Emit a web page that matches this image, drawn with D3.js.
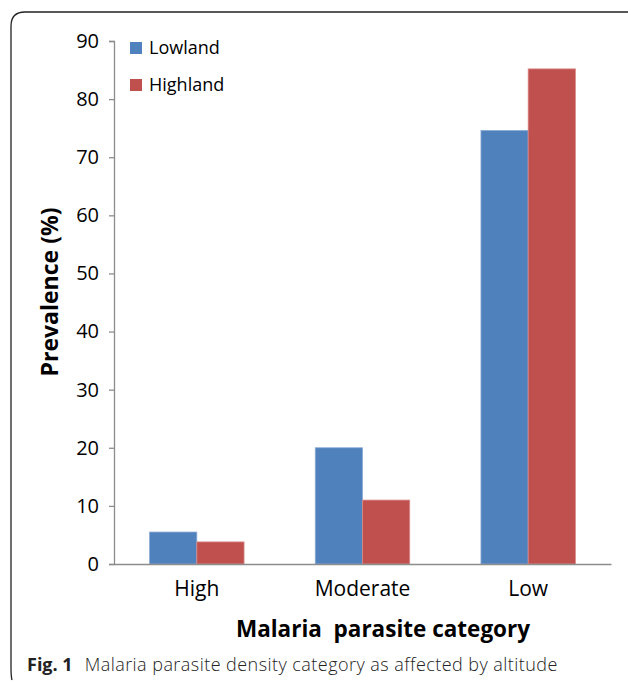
<!DOCTYPE html>
<html><head><meta charset="utf-8">
<script src="https://cdn.jsdelivr.net/npm/d3@7"></script>
<style>body{margin:0;background:#fff}svg{display:block}text{font-family:"Open Sans",sans-serif}</style>
</head><body><svg id="c" width="628" height="682"></svg>
<script>
const categories = ["High", "Moderate", "Low"];
const seriesNames = ["Lowland", "Highland"];
const lowland = [5.5, 20.0, 74.6];
const highland = [3.8, 11.0, 85.2];
const yTicks = [0, 10, 20, 30, 40, 50, 60, 70, 80, 90];
const colors = ["#4F81BD", "#C0504D"];

(function () {
const svg = d3.select("#c");
// frame
svg.append("path").attr("d", "M12,680 Q11,676 11,668 L11,26 Q11,12 25,12 L628,12")
  .attr("fill", "none").attr("stroke", "#222").attr("stroke-width", 1.3);

const pL = 114, pR = 611, pT = 41, pB = 564;
const x = d3.scaleBand().domain(categories).range([pL, pR]).paddingInner(0.43).paddingOuter(0.215);
const xs = d3.scaleBand().domain(seriesNames).range([0, x.bandwidth()]);
const y = d3.scaleLinear().domain([0, 90]).range([pB, pT]);

const data = categories.map((c, i) => ({c, vals: [lowland[i], highland[i]]}));
const g = svg.append("g");
g.selectAll("g.cat").data(data).join("g").attr("transform", d => `translate(${x(d.c)},0)`)
  .selectAll("rect").data(d => d.vals.map((v, j) => ({v, s: seriesNames[j], j})))
  .join("rect")
  .attr("x", d => xs(d.s)).attr("width", xs.bandwidth())
  .attr("y", d => y(d.v)).attr("height", d => y(0) - y(d.v))
  .attr("fill", d => colors[d.j])
  .attr("stroke", d => d.j ? "#d88a88" : "#8aaad6").attr("stroke-width", 0.8);

// y axis
const ya = svg.append("g").attr("transform", `translate(${pL},0)`)
  .call(d3.axisLeft(y).tickValues(yTicks).tickSize(5).tickPadding(10));
ya.select(".domain").attr("stroke", "#8c8c8c").attr("stroke-width", 1.3);
ya.selectAll(".tick line").attr("stroke", "#8c8c8c").attr("stroke-width", 1.3);
ya.selectAll("text").attr("font-size", 20).attr("fill", "#000").attr("font-family", "Open Sans");

// x axis
const xa = svg.append("g").attr("transform", `translate(0,${pB})`)
  .call(d3.axisBottom(x).tickSize(0).tickPadding(17));
xa.select(".domain").attr("stroke", "#8c8c8c").attr("stroke-width", 1.5);
xa.selectAll("text").attr("font-size", 21).attr("fill", "#000").attr("font-family", "Open Sans");

// axis titles
svg.append("text").attr("transform", "translate(58,292) rotate(-90)").attr("text-anchor", "middle")
  .attr("font-size", 23).attr("font-weight", "bold").text("Prevalence (%)");
svg.append("text").attr("x", 383).attr("y", 637).attr("text-anchor", "middle")
  .attr("font-size", 22.5).attr("font-weight", "bold")
  .style("white-space", "pre").text("Malaria  parasite category");

// legend
const lg = svg.append("g");
seriesNames.forEach((s, i) => {
  lg.append("rect").attr("x", 130).attr("y", 42 + i * 37).attr("width", 12).attr("height", 12).attr("fill", colors[i]);
  lg.append("text").attr("x", 149).attr("y", 54 + i * 37).attr("font-size", 18).attr("fill", "#000").text(s);
});

// caption
const cap = svg.append("text").attr("x", 27).attr("y", 671).attr("font-size", 18).attr("fill", "#222");
cap.append("tspan").attr("font-weight", "bold").text("Fig. 1");
cap.append("tspan").attr("dx", 12).attr("font-weight", 300).style("letter-spacing", "0.45px")
  .text("Malaria parasite density category as affected by altitude");
})();
</script></body></html>
